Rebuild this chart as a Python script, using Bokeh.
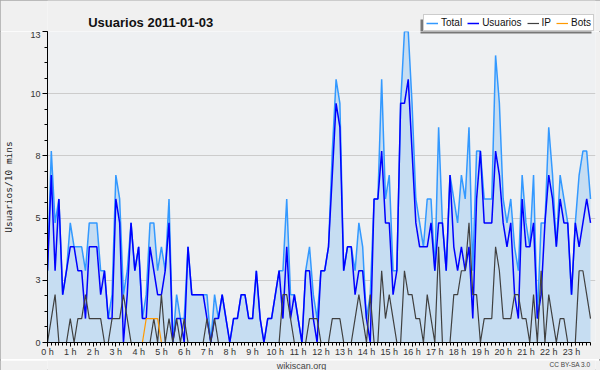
from bokeh.plotting import figure
from bokeh.layouts import column
from bokeh.models import (Range1d, FixedTicker, NumeralTickFormatter, Label, Legend,
                          LegendItem, BoxAnnotation, ColumnDataSource)
from bokeh.embed import file_html
from bokeh.resources import INLINE

# 10-minute slots of the day (0 .. 143)
slots = list(range(144))

total = [3, 8, 5, 6, 2, 3, 5, 4, 4, 4, 3, 5, 5, 5, 3, 3, 1, 2, 7, 6,
         2, 3, 5, 3, 4, 1, 2, 5, 5, 3, 4, 3, 6, 0, 2, 1, 1, 4, 2, 2,
         2, 2, 2, 0, 2, 1, 2, 1, 0, 1, 1, 2, 2, 1, 1, 3, 1, 0, 1, 1,
         2, 3, 3, 6, 2, 2, 1, 0, 3, 4, 2, 1, 3, 3, 4, 8, 11, 10, 3, 4,
         4, 3, 5, 4, 1, 2, 6, 6, 11, 6, 7, 3, 3, 10, 13, 13, 10, 6, 5, 4,
         6, 6, 3, 9, 5, 3, 7, 6, 5, 7, 6, 9, 3, 8, 8, 6, 6, 6, 12, 10,
         6, 5, 6, 4, 3, 7, 5, 4, 7, 1, 5, 5, 9, 7, 4, 7, 6, 5, 2, 5,
         7, 8, 8, 6]

usuarios = [3, 7, 3, 6, 2, 3, 4, 4, 3, 3, 1, 4, 4, 4, 2, 3, 1, 1, 6, 5,
            0, 2, 5, 3, 4, 1, 1, 4, 3, 2, 2, 3, 5, 0, 1, 1, 0, 4, 2, 2,
            2, 2, 1, 0, 1, 1, 2, 1, 0, 1, 1, 2, 2, 1, 1, 3, 1, 0, 1, 1,
            2, 3, 1, 4, 1, 2, 1, 0, 3, 3, 1, 0, 3, 3, 4, 7, 10, 9, 3, 4,
            4, 2, 3, 3, 1, 0, 6, 6, 8, 5, 5, 2, 3, 10, 10, 11, 8, 5, 4, 4,
            4, 5, 3, 5, 5, 3, 7, 4, 3, 4, 3, 4, 1, 6, 8, 5, 5, 5, 8, 7,
            5, 4, 5, 2, 1, 6, 4, 4, 5, 1, 2, 5, 7, 6, 4, 6, 5, 5, 2, 5,
            4, 5, 6, 5]

ip = [0, 1, 2, 0, 0, 0, 1, 0, 1, 1, 2, 1, 1, 1, 1, 0, 0, 1, 1, 1,
      2, 1, 0, 0, 0, 0, 0, 0, 1, 0, 2, 0, 1, 0, 1, 0, 1, 0, 0, 0,
      0, 0, 1, 0, 1, 0, 0, 0, 0, 0, 0, 0, 0, 0, 0, 0, 0, 0, 0, 0,
      0, 0, 2, 2, 1, 0, 0, 0, 0, 1, 1, 1, 0, 0, 0, 1, 1, 1, 0, 0,
      0, 1, 2, 1, 0, 2, 0, 0, 3, 1, 2, 1, 0, 0, 3, 2, 2, 1, 1, 0,
      2, 1, 0, 4, 0, 0, 0, 2, 2, 3, 3, 5, 2, 2, 0, 1, 1, 1, 4, 3,
      1, 1, 1, 2, 2, 1, 1, 0, 2, 0, 3, 0, 2, 1, 0, 1, 1, 0, 0, 0,
      3, 3, 2, 1]

bots = [0] * 26 + [1, 1, 1, 1] + [0] * 114

hour_ticks = [0, 6, 12, 18, 24, 30, 36, 42, 48, 54, 60, 66, 72, 78, 84, 90,
              96, 102, 108, 114, 120, 126, 132, 138]
hour_labels = ["0 h", "1 h", "2 h", "3 h", "4 h", "5 h", "6 h", "7 h", "8 h", "9 h",
               "10 h", "11 h", "12 h", "13 h", "14 h", "15 h", "16 h", "17 h", "18 h",
               "19 h", "20 h", "21 h", "22 h", "23 h"]
y_ticks = [0, 2.6, 5.2, 7.8, 10.4, 13]
y_minor = [0.65 * k for k in range(21)]

series_names = ["Total", "Usuarios", "IP", "Bots"]
series_colors = ["#3399ff", "#0000ff", "#404040", "#ff9900"]
series_widths = [1.5, 1.5, 1.2, 1.2]

src = ColumnDataSource(dict(x=slots, total=total, usuarios=usuarios, ip=ip, bots=bots,
                            zero=[0] * len(slots)))

BG = "#f0f0f0"
common = dict(output_backend="svg", toolbar_location=None, title=None,
              min_border_left=46, min_border_right=5, border_fill_color=BG,
              outline_line_color=None)

# ---------------- header: title + legend ----------------
header = figure(width=600, height=31, x_range=Range1d(0, 1), y_range=Range1d(0, 1),
                x_axis_location=None, y_axis_location=None,
                min_border_top=0, min_border_bottom=0, background_fill_color=BG, **common)
header.xgrid.visible = False
header.ygrid.visible = False
# legend-only renderers (a single NaN placeholder, nothing is drawn in the frame)
legend_src = ColumnDataSource(dict(x=[float("nan")], y=[float("nan")]))
legend_renderers = [header.line("x", "y", source=legend_src, line_color=c, line_width=w)
                    for c, w in zip(series_colors, series_widths)]
header.add_layout(Label(x=105, y=9, x_units="screen", y_units="screen",
                        text="Usuarios  2011-01-03", text_align="center",
                        text_baseline="alphabetic",
                        text_font="Liberation Sans", text_font_style="bold",
                        text_font_size="13px", text_color="#111111"))
header.add_layout(BoxAnnotation(left=373, right=544, bottom=0, top=12,
                                left_units="screen", right_units="screen",
                                bottom_units="screen", top_units="screen",
                                fill_color="#777777", fill_alpha=1, line_color=None))
legend = Legend(items=[LegendItem(label=n, renderers=[r])
                       for n, r in zip(series_names, legend_renderers)],
                orientation="horizontal", location=(376, 0),
                label_text_font="Liberation Sans", label_text_font_size="10px",
                label_text_color="#111111",
                glyph_width=12, glyph_height=10, label_height=10, label_width=0,
                label_standoff=3, spacing=5, padding=2, margin=0,
                border_line_color="#999999", border_line_width=1,
                background_fill_color="white", background_fill_alpha=1)
header.add_layout(legend)

# ---------------- main plot: frame x 46..590, y 31..344 ----------------
p = figure(width=600, height=328, x_range=Range1d(0, 143 * 549 / 544), y_range=Range1d(0, 13),
           min_border_top=0, min_border_bottom=15, background_fill_color="#eef0f2", **common)

p.varea(x="x", y1="zero", y2="total", source=src, fill_color="#c6ddf2")
for col, c, w in zip(["total", "usuarios", "ip", "bots"], series_colors, series_widths):
    p.line("x", col, source=src, line_color=c, line_width=w)

# rest of legend shadow (just below the header)
p.add_layout(BoxAnnotation(left=373, right=544, bottom=309, top=313,
                           left_units="screen", right_units="screen",
                           bottom_units="screen", top_units="screen",
                           fill_color="#777777", fill_alpha=1, line_color=None))

p.xaxis.ticker = FixedTicker(ticks=hour_ticks, minor_ticks=slots)
p.xaxis.major_label_overrides = {t: l for t, l in zip(hour_ticks, hour_labels)}
p.xaxis.bounds = (0, 143)
p.yaxis.ticker = FixedTicker(ticks=y_ticks, minor_ticks=y_minor)
p.yaxis.formatter = NumeralTickFormatter(format="0")
for ax in (p.xaxis, p.yaxis):
    ax.axis_line_color = "black"
    ax.axis_line_width = 1
    ax.major_tick_line_color = "black"
    ax.minor_tick_line_color = "black"
    ax.major_tick_in = 0
    ax.minor_tick_in = 0
    ax.major_tick_out = 5
    ax.minor_tick_out = 3
    ax.major_label_text_font = "Liberation Sans"
    ax.major_label_text_font_size = "9px"
    ax.major_label_text_color = "#333333"
    ax.major_label_standoff = 2
p.xaxis.major_tick_out = 4
p.xaxis.minor_tick_out = 3
p.xaxis.major_label_standoff = 0

p.yaxis.axis_label = "Usuarios/10 mins"
p.yaxis.axis_label_text_font = "DejaVu Sans Mono"
p.yaxis.axis_label_text_font_size = "9.5px"
p.yaxis.axis_label_text_font_style = "normal"
p.yaxis.axis_label_text_color = "#222222"
p.yaxis.axis_label_standoff = 13

p.xgrid.visible = False
p.ygrid.ticker = FixedTicker(ticks=y_ticks)
p.ygrid.grid_line_color = "#cccccc"

# ---------------- footer ----------------
footer = figure(width=600, height=11, x_range=Range1d(0, 1), y_range=Range1d(0, 1),
                x_axis_location=None, y_axis_location=None,
                min_border_top=0, min_border_bottom=0, background_fill_color=BG, **common)
footer.xgrid.visible = False
footer.ygrid.visible = False
footer.add_layout(Label(x=254, y=1, x_units="screen", y_units="data",
                        text="wikiscan.org", text_align="center", text_baseline="top",
                        text_font="Liberation Sans", text_font_size="9px",
                        text_color="#444444"))
footer.add_layout(Label(x=543, y=1, x_units="screen", y_units="data",
                        text="CC BY-SA 3.0", text_align="right", text_baseline="top",
                        text_font="Liberation Sans", text_font_size="6.5px",
                        text_color="#444444"))

layout = column(header, p, footer, spacing=0,
                styles={"outline": "1px solid #a8a8a8", "outline-offset": "-1px"})

open("out.html", "w").write(file_html(layout, INLINE))
